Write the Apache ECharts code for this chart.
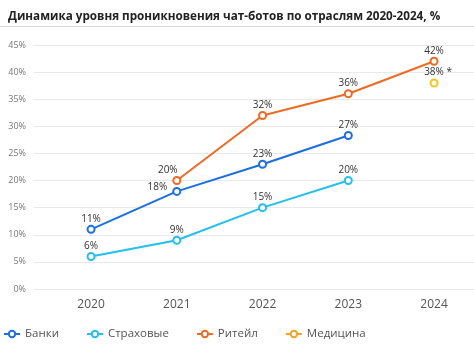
<!DOCTYPE html>
<html>
<head>
<meta charset="utf-8">
<script src="https://cdn.jsdelivr.net/npm/echarts@6/dist/echarts.min.js"></script>
<style>
  html, body { margin: 0; padding: 0; background: #fff; }
  #chart { width: 474px; height: 350px; }
</style>
</head>
<body>
<div id="chart"></div>
<script>
// годы и значения по отраслям
var years = [2020, 2021, 2022, 2023, 2024];
var yTicks = [0, 5, 10, 15, 20, 25, 30, 35, 40, 45];

var bankValues = [11, 18, 23, 28.3];
var bankLabels = ['11%', '18%', '23%', '27%'];
var insuranceValues = [6, 9, 15, 20];
var retailValues = [null, 20, 32, 36, 42];
var medicineValues = [null, null, null, null, 38];

var font = 'Open Sans, DejaVu Sans, sans-serif';
var labelStyle = { show: true, position: 'top', distance: 1, color: '#333', fontSize: 10, fontFamily: font };

function toPairs(values) {
  var out = [];
  values.forEach(function (v, i) {
    if (v !== null) out.push([years[i], v]);
  });
  return out;
}

function lineSeries(name, color, values) {
  return {
    name: name,
    type: 'line',
    data: toPairs(values),
    symbol: 'emptyCircle',
    symbolSize: 7,
    color: color,
    lineStyle: { width: 2, color: color },
    itemStyle: { color: color, borderColor: color, borderWidth: 2 },
    label: Object.assign({}, labelStyle, { formatter: function (p) { return p.value[1] + '%'; } })
  };
}

var banks = lineSeries('Банки', '#1a6ee6', bankValues);
banks.label.formatter = function (p) { return bankLabels[p.dataIndex]; };
banks.data[1] = { value: banks.data[1], label: { position: 'left', distance: 5, offset: [0, -4] } };

var insurance = lineSeries('Страховые', '#22bff0', insuranceValues);

var retail = lineSeries('Ритейл', '#f06a22', retailValues);
retail.data[0] = { value: retail.data[0], label: { offset: [-9, 0] } };

var medicine = lineSeries('Медицина', '#f5a126', medicineValues);
medicine.data[0] = {
  value: medicine.data[0],
  itemStyle: { color: '#f3c614', borderColor: '#f3c614' }
};
medicine.label.formatter = function (p) { return p.value[1] + '% *'; };
medicine.label.offset = [4, 0];

var chart = echarts.init(document.getElementById('chart'));
chart.setOption({
  animation: false,
  title: {
    text: 'Динамика уровня проникновения чат-ботов по отраслям 2020-2024, %',
    left: 3,
    top: 6,
    textStyle: { fontSize: 11.7, fontWeight: 'bold', color: '#222', fontFamily: font }
  },
  graphic: [{
    type: 'line',
    shape: { x1: 0, y1: 26.5, x2: 474, y2: 26.5 },
    style: { stroke: '#d6d6d6', lineWidth: 1 }
  }],
  grid: { left: 34, right: 0, top: 45, bottom: 61 },
  legend: {
    left: 3,
    bottom: 10,
    padding: 0,
    itemWidth: 16,
    itemHeight: 8,
    itemGap: 27,
    textStyle: { fontSize: 11.5, color: '#555', fontFamily: font },
    data: ['Банки', 'Страховые', 'Ритейл', 'Медицина']
  },
  xAxis: {
    type: 'value',
    min: 2019.335,
    max: 2024.466,
    axisLine: { show: false },
    axisTick: { show: false },
    splitLine: { show: false },
    axisLabel: {
      customValues: years,
      formatter: function (v) { return String(v); },
      margin: 10,
      fontSize: 12,
      color: '#555',
      fontFamily: font
    }
  },
  yAxis: {
    type: 'value',
    min: 0,
    max: 45,
    interval: 5,
    axisLine: { show: false },
    axisTick: { show: false },
    splitLine: { lineStyle: { color: '#e9e9e9', width: 1 } },
    axisLabel: {
      customValues: yTicks,
      formatter: '{value}%',
      margin: 8,
      fontSize: 9,
      color: '#777',
      fontFamily: font
    }
  },
  series: [banks, insurance, retail, medicine]
});
</script>
</body>
</html>
